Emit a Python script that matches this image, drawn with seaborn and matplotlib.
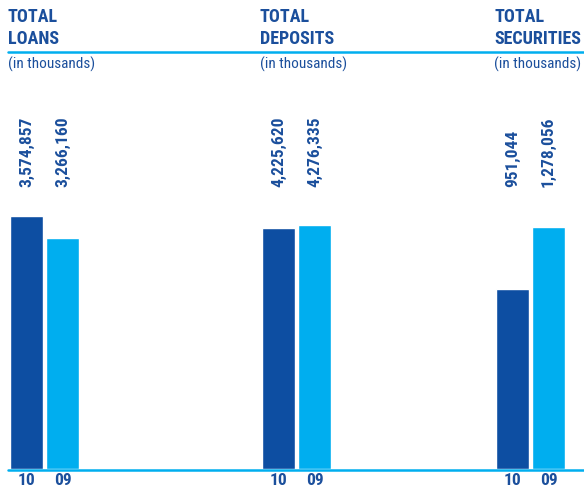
import matplotlib
matplotlib.use("Agg")
import matplotlib.pyplot as plt
import matplotlib.transforms as mtransforms
from matplotlib.lines import Line2D
import seaborn as sns
import pandas as pd

# data (in thousands)
years = ["10", "09"]
titles = ["TOTAL\nLOANS", "TOTAL\nDEPOSITS", "TOTAL\nSECURITIES"]
loans = [3574857, 3266160]
deposits = [4225620, 4276335]
securities = [951044, 1278056]
panels = [loans, deposits, securities]

DARK = "#0d4ea2"
LIGHT = "#00aeef"
TXT = "#1b4f9c"

sns.set_style("white")
plt.rcParams["font.family"] = ["DejaVu Sans Condensed", "Roboto Condensed",
                               "Liberation Sans Narrow", "DejaVu Sans"]
plt.rcParams["font.stretch"] = "condensed"

W, H = 584, 491
fig = plt.figure(figsize=(W / 100, H / 100), dpi=100)

# layout in pixels: left edge of each panel, pixel height of first bar
lefts = [8.5, 260.5, 494.5]
first_px = [252.5, 241, 180]
base_y = 469
top_y = 90
ax_h = base_y - top_y

for vals, title, left, fpx in zip(panels, titles, lefts, first_px):
    ax = fig.add_axes([left / W, (H - base_y) / H, 72 / W, ax_h / H])
    df = pd.DataFrame({"year": years, "value": vals})
    sns.barplot(data=df, x="year", y="value", hue="year", palette=[DARK, LIGHT],
                width=0.92, legend=False, ax=ax, saturation=1)
    ax.set_xlim(-0.5, 1.5)
    ax.set_ylim(0, vals[0] * ax_h / fpx)
    sns.despine(ax=ax, left=True, bottom=True)
    ax.set_yticks([])
    ax.set_xlabel("")
    ax.set_ylabel("")
    ax.tick_params(axis="x", length=0, pad=3, labelsize=12.5, labelcolor=TXT)
    for lab in ax.get_xticklabels():
        lab.set_fontweight("bold")
    trans = mtransforms.blended_transform_factory(ax.transData, ax.transAxes)
    for i, v in enumerate(vals):
        ax.text(i, (base_y - 187) / ax_h, f"{v:,}", rotation=90, ha="center",
                va="bottom", fontsize=12.5, fontweight="bold", color=TXT,
                transform=trans, clip_on=False)
    # panel headings
    fig.text((left - 0.5) / W, 1 - 8 / H, title, ha="left", va="top",
             fontsize=13, fontweight="bold", color=TXT, linespacing=1.3)
    fig.text((left - 0.5) / W, 1 - 57 / H, "(in thousands)", ha="left",
             va="top", fontsize=11, color=TXT)

# header rule and baseline
fig.add_artist(Line2D([8 / W, 1], [1 - 51.5 / H] * 2, color=LIGHT, lw=1.8,
                      transform=fig.transFigure))
fig.add_artist(Line2D([8 / W, 1], [1 - 470 / H] * 2, color=LIGHT, lw=1.8,
                      transform=fig.transFigure))

fig.savefig("out.png", dpi=100)
